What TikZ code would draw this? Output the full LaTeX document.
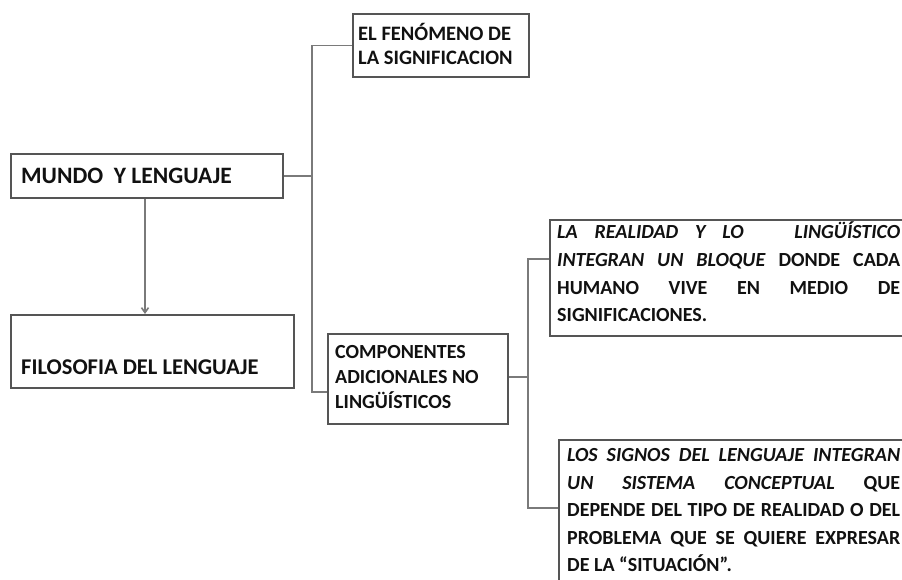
\documentclass[tikz,border=0pt]{standalone}
\usepackage{fontspec}
\setmainfont{Carlito}
\usetikzlibrary{arrows.meta}
\definecolor{boxgray}{HTML}{555555}
\definecolor{linegray}{HTML}{7A7A7A}
\definecolor{txtc}{HTML}{111111}
\tikzset{
  box/.style={draw=boxgray, line width=1.8pt, inner sep=0pt, anchor=north west},
  conn/.style={draw=linegray, line width=1.6pt},
  txt/.style={inner sep=0pt, anchor=base west, text=txtc, font=\bfseries},
  para/.style={inner sep=0pt, anchor=north west, align=left, text=txtc},
}
\newcommand{\jl}[2]{\makebox[#1][s]{#2}}
\begin{document}
\begin{tikzpicture}[x=1pt,y=-1pt]
\path[use as bounding box] (0,0) rectangle (902,579);
\clip (0,0) rectangle (902,579);
\fill[white] (0,0) rectangle (902,579);
% boxes
\node[box, minimum width=272pt, minimum height=44pt] (mundo) at (10,153) {};
\node[box, minimum width=283pt, minimum height=73pt] (filo) at (10,314) {};
\node[box, minimum width=176pt, minimum height=63pt] (fen) at (352,13) {};
\node[box, minimum width=180pt, minimum height=90pt] (comp) at (327,333) {};
\node[box, minimum width=370pt, minimum height=116pt] (real) at (549,219) {};
\node[box, minimum width=370pt, minimum height=160pt] (signos) at (558,439) {};
% texts
\node[txt, font=\bfseries\fontsize{23.5}{27}\selectfont] (mundot) at (21,183.5) {MUNDO\ \ Y LENGUAJE};
\node[txt, font=\bfseries\fontsize{22.5}{27}\selectfont] (filot) at (21,374) {FILOSOFIA DEL LENGUAJE};
\node[para, font=\bfseries\fontsize{20.5}{24}\selectfont] (fent) at (358,22.7) {\strut EL FENÓMENO DE\\LA SIGNIFICACION};
\node[para, font=\bfseries\fontsize{20}{25}\selectfont] (compt) at (335,341) {\strut COMPONENTES\\ADICIONALES NO\\LINGÜÍSTICOS};
\node[para, font=\bfseries\fontsize{20}{27.7}\selectfont] (realt) at (557,219.1) {\strut\jl{343pt}{\textit{LA REALIDAD Y LO\ \ \ LINGÜÍSTICO}}\\
\jl{343pt}{\textit{INTEGRAN UN BLOQUE} DONDE CADA}\\
\jl{343pt}{HUMANO VIVE EN MEDIO DE}\\
SIGNIFICACIONES.};
\node[para, font=\bfseries\fontsize{20}{27.5}\selectfont] (signost) at (567,442.25) {\strut\jl{333pt}{\textit{LOS SIGNOS DEL LENGUAJE INTEGRAN}}\\
\jl{333pt}{\textit{UN SISTEMA CONCEPTUAL} QUE}\\
\jl{333pt}{DEPENDE DEL TIPO DE REALIDAD O DEL}\\
\jl{333pt}{PROBLEMA QUE SE QUIERE EXPRESAR}\\
DE LA “SITUACIÓN”.};
% connectors
\coordinate (trunk) at (312,176);
\coordinate (compin) at (comp.south west |- 0,392);
\coordinate (realin) at (real.north west |- 0,259);
\coordinate (signin) at (signos.north west |- 0,508);
\coordinate (fork) at (528,377);
\draw[conn] (mundo.east |- trunk) -- (trunk);
\draw[conn] (fen.west) -| (trunk) |- (compin);
\draw[conn] (comp.east |- fork) -- (fork);
\draw[conn] (realin) -| (fork) |- (signin);
\draw[conn, -{Straight Barb[length=5pt,width=7pt]}] (mundo.south -| 145,0) -- (filo.north -| 145,0);
\end{tikzpicture}
\end{document}
